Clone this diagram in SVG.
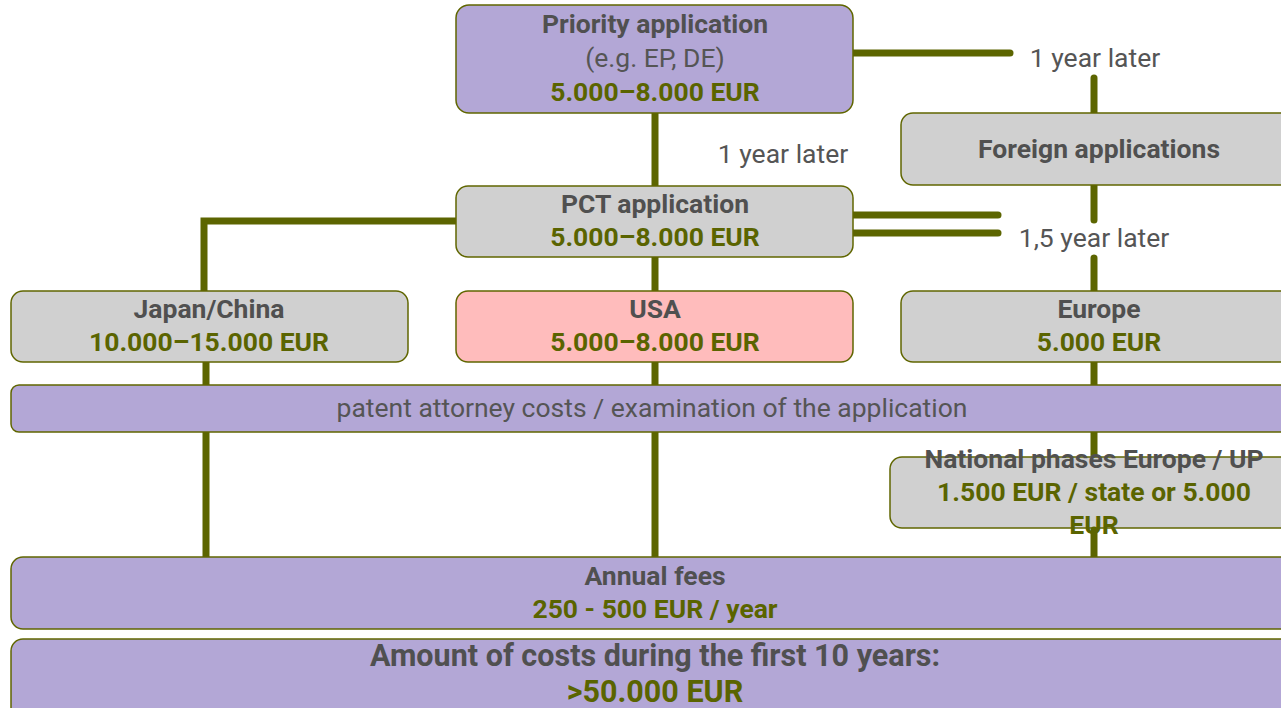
<svg xmlns="http://www.w3.org/2000/svg" width="1281" height="708" viewBox="0 0 1281 708">
  <style>
    text { font-family: Roboto, "Open Sans", "Liberation Sans", sans-serif; text-anchor: middle; font-size: 26.5px; }
    .t { font-weight: 700; fill: #505050; }
    .n { font-weight: 400; fill: #555555; }
    .c { font-weight: 700; fill: #5a6400; }
    .big { font-size: 30.5px; }
    .box { stroke: #606600; stroke-width: 1.5; }
    .purple { fill: #b3a7d6; }
    .gray { fill: #d0d0d0; }
    .pink { fill: #ffbcbc; }
    .link { stroke: #5c6500; stroke-width: 7; stroke-linecap: round; fill: none; }
  </style>

  <!-- connectors -->
  <g id="connectors">
    <path class="link" d="M853 53 H1010"/>
    <path class="link" d="M1094 78 V114"/>
    <path class="link" d="M1094 186 V220"/>
    <path class="link" d="M1094 258 V291"/>
    <path class="link" d="M655 113 V186"/>
    <path class="link" d="M853 215 H998"/>
    <path class="link" d="M853 233 H998"/>
    <path class="link" d="M456 221 H204 V292"/>
    <path class="link" d="M655 257 V292"/>
    <path class="link" d="M206 362 V386"/>
    <path class="link" d="M655 362 V386"/>
    <path class="link" d="M1094 362 V386"/>
    <path class="link" d="M206 432 V558"/>
    <path class="link" d="M655 432 V558"/>
    <path class="link" d="M1094 432 V460"/>
  </g>

  <g id="priority">
    <rect class="box purple" x="456" y="5" width="397" height="108" rx="13"/>
    <text class="t" x="655" y="33">Priority application</text>
    <text class="n" x="655" y="67">(e.g. EP, DE)</text>
    <text class="c" x="655" y="101">5.000–8.000 EUR</text>
  </g>

  <g id="label-1year-right">
    <text class="n" x="1095" y="67">1 year later</text>
  </g>

  <g id="foreign">
    <rect class="box gray" x="901" y="113" width="395" height="72" rx="12"/>
    <text class="t" x="1099" y="158">Foreign applications</text>
  </g>

  <g id="label-1year-center">
    <text class="n" x="783" y="163">1 year later</text>
  </g>

  <g id="label-15year">
    <text class="n" x="1094" y="247">1,5 year later</text>
  </g>

  <g id="pct">
    <rect class="box gray" x="456" y="186" width="397" height="71" rx="12"/>
    <text class="t" x="655" y="213">PCT application</text>
    <text class="c" x="655" y="246">5.000–8.000 EUR</text>
  </g>

  <g id="japan-china">
    <rect class="box gray" x="11" y="291" width="397" height="71" rx="12"/>
    <text class="t" x="209" y="318">Japan/China</text>
    <text class="c" x="209" y="351">10.000–15.000 EUR</text>
  </g>

  <g id="usa">
    <rect class="box pink" x="456" y="291" width="397" height="71" rx="12"/>
    <text class="t" x="655" y="318">USA</text>
    <text class="c" x="655" y="351">5.000–8.000 EUR</text>
  </g>

  <g id="europe">
    <rect class="box gray" x="901" y="291" width="395" height="71" rx="12"/>
    <text class="t" x="1099" y="318">Europe</text>
    <text class="c" x="1099" y="351">5.000 EUR</text>
  </g>

  <g id="attorney">
    <rect class="box purple" x="11" y="385" width="1285" height="47" rx="8"/>
    <text class="n" x="652" y="417">patent attorney costs / examination of the application</text>
  </g>

  <g id="national">
    <rect class="box gray" x="890" y="457" width="406" height="71" rx="12"/>
    <text class="t" x="1094" y="468">National phases Europe / UP</text>
    <text class="c" x="1094" y="501">1.500 EUR / state or 5.000</text>
    <text class="c" x="1094" y="534">EUR</text>
    <path class="link" d="M1094 530 V558"/>
  </g>

  <g id="annual">
    <rect class="box purple" x="11" y="557" width="1285" height="72" rx="12"/>
    <text class="t" x="655" y="585">Annual fees</text>
    <text class="c" x="655" y="618">250 - 500 EUR / year</text>
  </g>

  <g id="total">
    <rect class="box purple" x="11" y="639" width="1285" height="80" rx="12"/>
    <text class="t big" x="655" y="666">Amount of costs during the first 10 years:</text>
    <text class="c big" x="655" y="702">&gt;50.000 EUR</text>
  </g>
</svg>
